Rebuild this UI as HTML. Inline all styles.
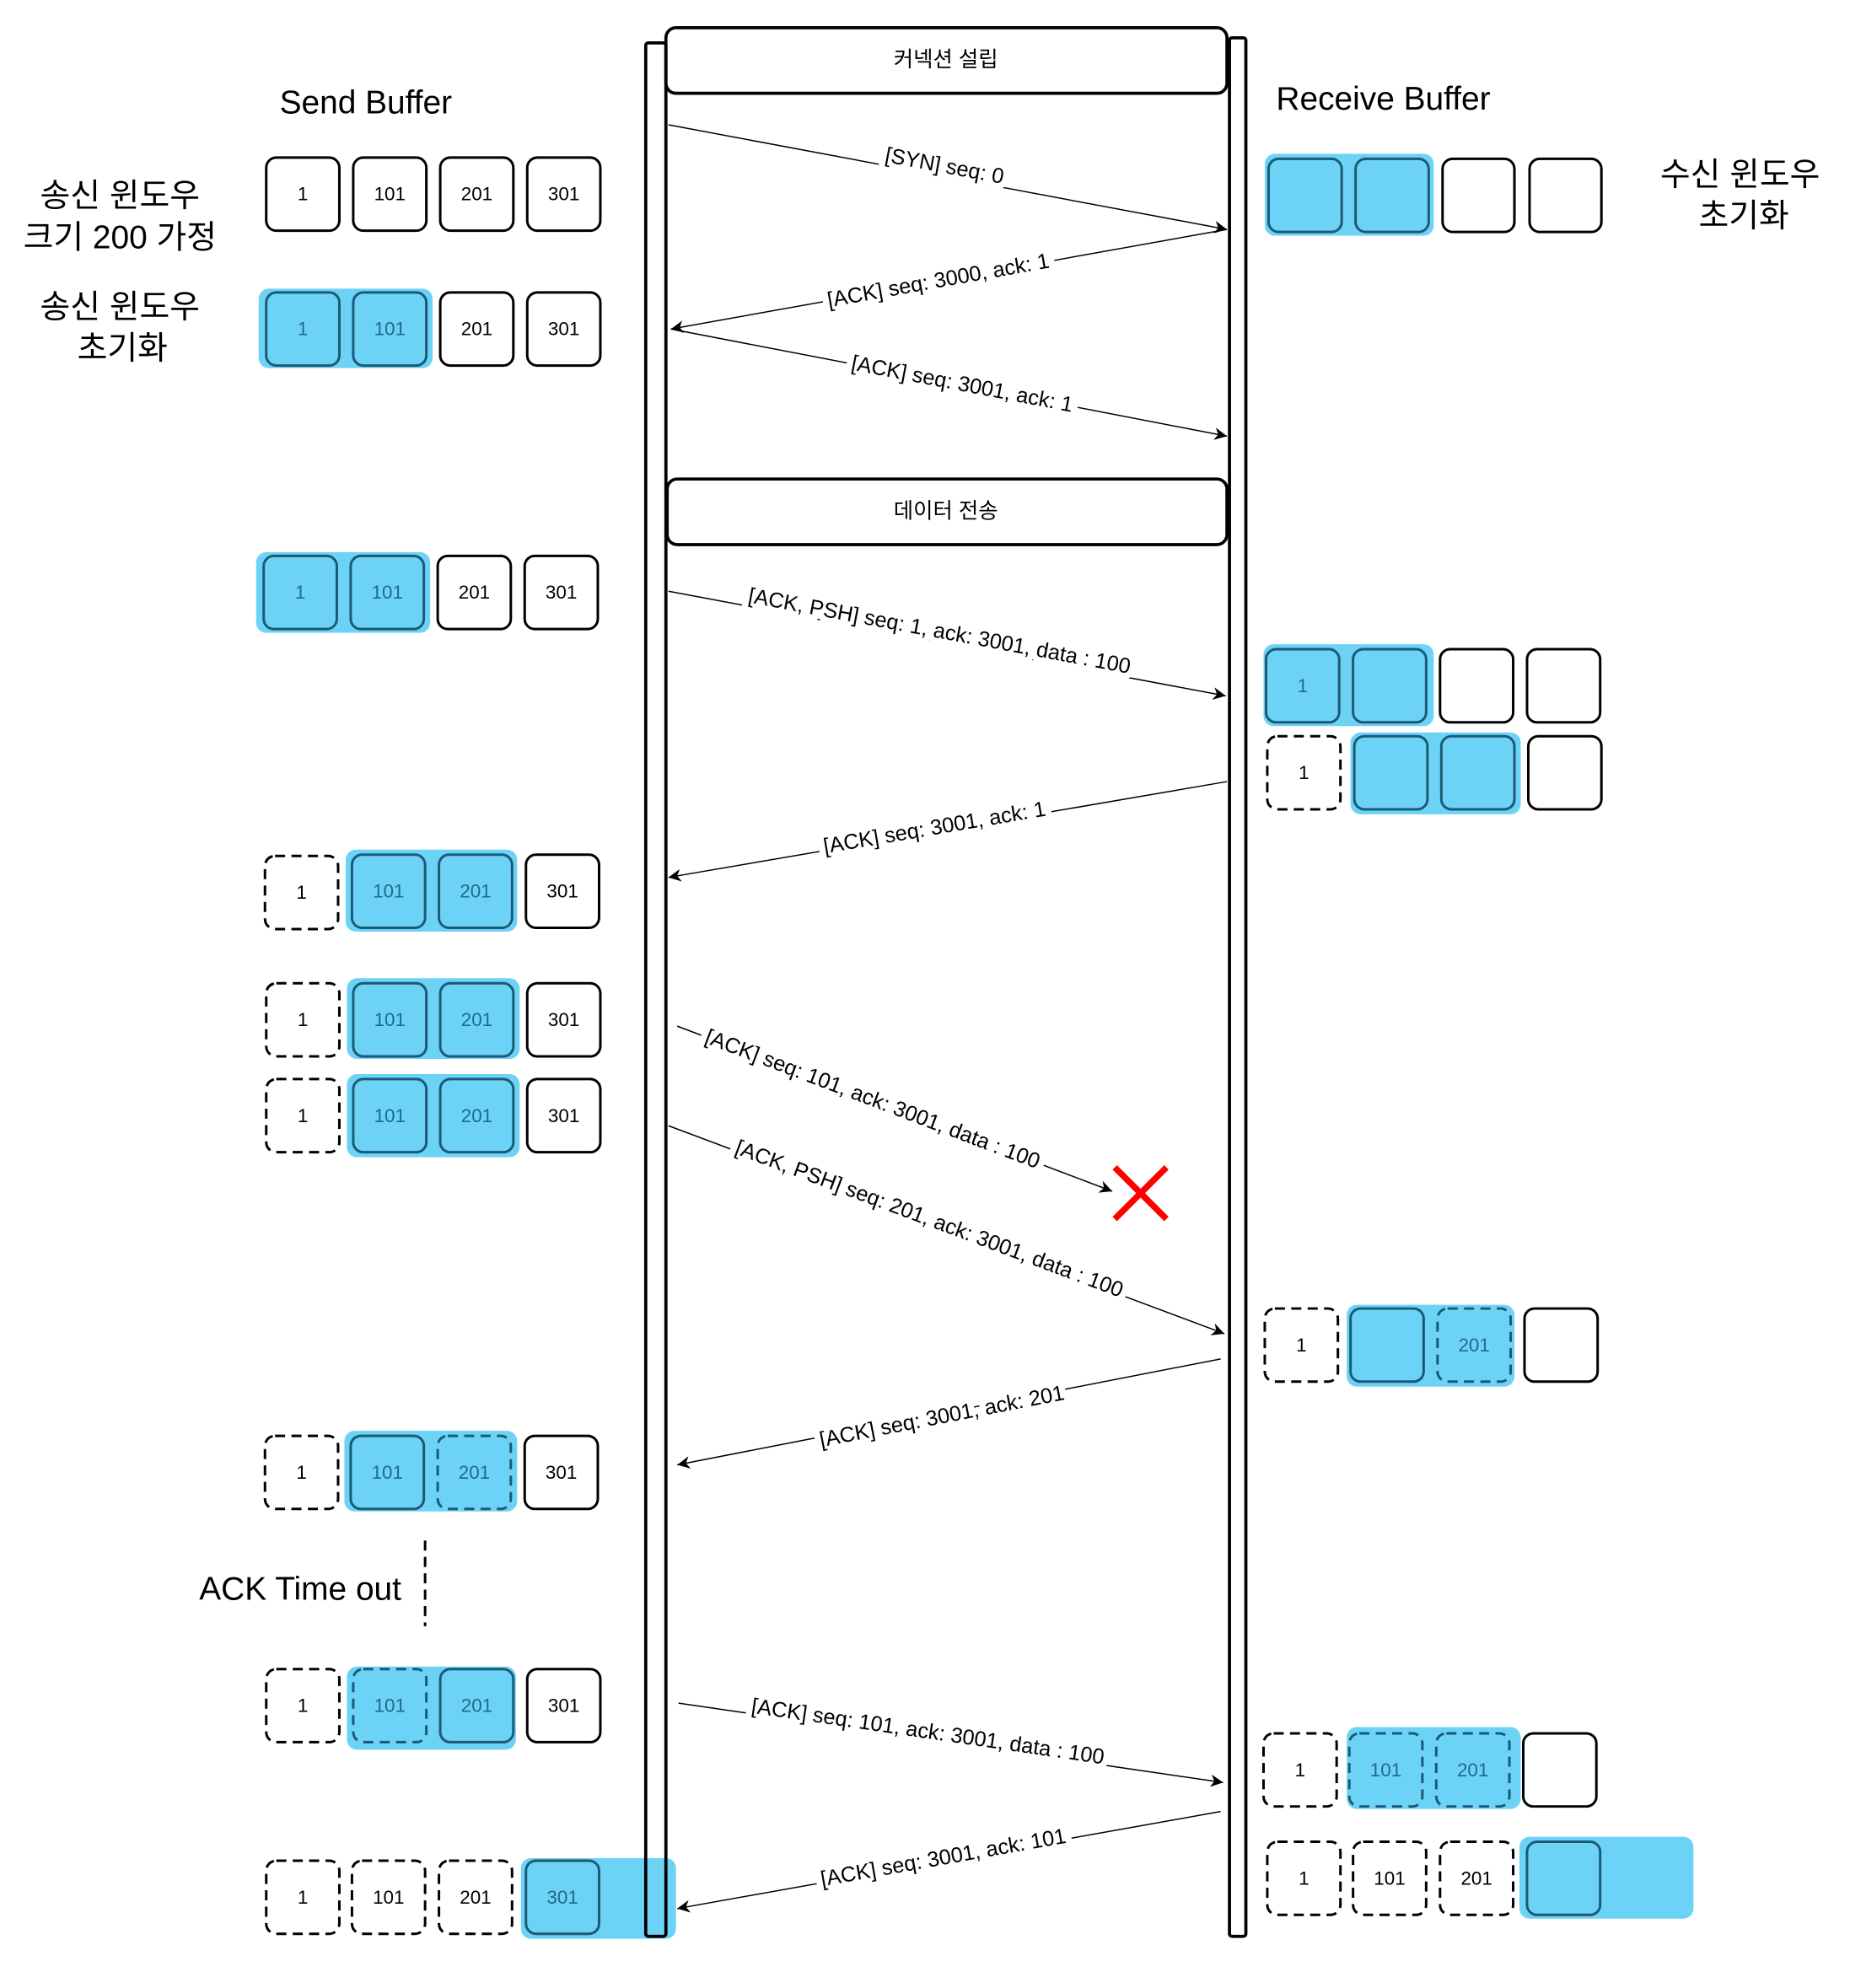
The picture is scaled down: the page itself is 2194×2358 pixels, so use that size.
<!DOCTYPE html>
<html><head><meta charset="utf-8"><style>
html,body{margin:0;padding:0;background:#fff}
svg{display:block}
text{font-family:"Liberation Sans","Noto Sans CJK KR",sans-serif}
.w{fill:#fff;stroke:#000;stroke-width:2}
.d{fill:#fff;stroke:#000;stroke-width:2;stroke-dasharray:8 5}
.b{fill:#6dd3f6;stroke:#1b5a75;stroke-width:2}
.bd{fill:#6dd3f6;stroke:#1b5a75;stroke-width:2;stroke-dasharray:8 5}
.hl{fill:#6dd3f6}
.n{font-size:15px;text-anchor:middle;fill:#000}
.nb{font-size:15px;text-anchor:middle;fill:#1e6b8c}
.lab{font-size:17px;text-anchor:middle;fill:#000;paint-order:stroke;stroke:#fff;stroke-width:10px}
.big{font-size:26px;text-anchor:middle;fill:#000}
.ln{stroke:#000;stroke-width:1;fill:none}
</style></head><body>
<svg width="2194" height="2358" viewBox="0 0 1467 1577" xmlns="http://www.w3.org/2000/svg">
<defs><marker id="a" viewBox="0 0 10 10" refX="10" refY="5" markerWidth="10" markerHeight="10" orient="auto" markerUnits="userSpaceOnUse"><path d="M0,0 L10,5 L0,10 L3,5 z" fill="#000"/></marker></defs>

<rect x="528" y="22" width="445" height="52" rx="8" fill="#fff" stroke="#000" stroke-width="2.5"/>
<text x="750" y="53" class="n" style="font-size:17px">커넥션 설립</text>
<rect x="529" y="380" width="444" height="52" rx="8" fill="#fff" stroke="#000" stroke-width="2.5"/>
<text x="750" y="411" class="n" style="font-size:17px">데이터 전송</text>

<text x="290" y="90" class="big">Send Buffer</text>
<text x="1097" y="87" class="big">Receive Buffer</text>
<text x="95" y="164" class="big">송신 윈도우</text>
<text x="95" y="197" class="big">크기 200 가정</text>
<text x="95" y="252" class="big">송신 윈도우</text>
<text x="97" y="285" class="big">초기화</text>
<text x="1380" y="147" class="big">수신 윈도우</text>
<text x="1383" y="180" class="big">초기화</text>
<text x="238" y="1269" class="big">ACK Time out</text>
<line x1="337" y1="1222" x2="337" y2="1290" stroke="#000" stroke-width="2" stroke-dasharray="8 5"/>

<rect x="211" y="125" width="58" height="58" rx="8" class="w"/><text x="240" y="159" class="n">1</text>
<rect x="280" y="125" width="58" height="58" rx="8" class="w"/><text x="309" y="159" class="n">101</text>
<rect x="349" y="125" width="58" height="58" rx="8" class="w"/><text x="378" y="159" class="n">201</text>
<rect x="418" y="125" width="58" height="58" rx="8" class="w"/><text x="447" y="159" class="n">301</text>

<rect x="205" y="229" width="138" height="63" rx="8" class="hl"/>
<rect x="211" y="232" width="58" height="58" rx="8" class="b"/><text x="240" y="266" class="nb">1</text>
<rect x="280" y="232" width="58" height="58" rx="8" class="b"/><text x="309" y="266" class="nb">101</text>
<rect x="349" y="232" width="58" height="58" rx="8" class="w"/><text x="378" y="266" class="n">201</text>
<rect x="418" y="232" width="58" height="58" rx="8" class="w"/><text x="447" y="266" class="n">301</text>

<rect x="203" y="438" width="138" height="64" rx="8" class="hl"/>
<rect x="209" y="441" width="58" height="58" rx="8" class="b"/><text x="238" y="475" class="nb">1</text>
<rect x="278" y="441" width="58" height="58" rx="8" class="b"/><text x="307" y="475" class="nb">101</text>
<rect x="347" y="441" width="58" height="58" rx="8" class="w"/><text x="376" y="475" class="n">201</text>
<rect x="416" y="441" width="58" height="58" rx="8" class="w"/><text x="445" y="475" class="n">301</text>

<rect x="274" y="674" width="136" height="65" rx="8" class="hl"/>
<rect x="210" y="679" width="58" height="58" rx="8" class="d"/><text x="239" y="713" class="n">1</text>
<rect x="279" y="678" width="58" height="58" rx="8" class="b"/><text x="308" y="712" class="nb">101</text>
<rect x="348" y="678" width="58" height="58" rx="8" class="b"/><text x="377" y="712" class="nb">201</text>
<rect x="417" y="678" width="58" height="58" rx="8" class="w"/><text x="446" y="712" class="n">301</text>

<rect x="275" y="776" width="137" height="64" rx="8" class="hl"/>
<rect x="211" y="780" width="58" height="58" rx="8" class="d"/><text x="240" y="814" class="n">1</text>
<rect x="280" y="780" width="58" height="58" rx="8" class="b"/><text x="309" y="814" class="nb">101</text>
<rect x="349" y="780" width="58" height="58" rx="8" class="b"/><text x="378" y="814" class="nb">201</text>
<rect x="418" y="780" width="58" height="58" rx="8" class="w"/><text x="447" y="814" class="n">301</text>

<rect x="275" y="852" width="137" height="66" rx="8" class="hl"/>
<rect x="211" y="856" width="58" height="58" rx="8" class="d"/><text x="240" y="890" class="n">1</text>
<rect x="280" y="856" width="58" height="58" rx="8" class="b"/><text x="309" y="890" class="nb">101</text>
<rect x="349" y="856" width="58" height="58" rx="8" class="b"/><text x="378" y="890" class="nb">201</text>
<rect x="418" y="856" width="58" height="58" rx="8" class="w"/><text x="447" y="890" class="n">301</text>

<rect x="273" y="1135" width="137" height="64" rx="8" class="hl"/>
<rect x="210" y="1139" width="58" height="58" rx="8" class="d"/><text x="239" y="1173" class="n">1</text>
<rect x="278" y="1139" width="58" height="58" rx="8" class="b"/><text x="307" y="1173" class="nb">101</text>
<rect x="347" y="1139" width="58" height="58" rx="8" class="bd"/><text x="376" y="1173" class="nb">201</text>
<rect x="416" y="1139" width="58" height="58" rx="8" class="w"/><text x="445" y="1173" class="n">301</text>

<rect x="275" y="1322" width="134" height="66" rx="8" class="hl"/>
<rect x="211" y="1324" width="58" height="58" rx="8" class="d"/><text x="240" y="1358" class="n">1</text>
<rect x="280" y="1324" width="58" height="58" rx="8" class="bd"/><text x="309" y="1358" class="nb">101</text>
<rect x="349" y="1324" width="58" height="58" rx="8" class="b"/><text x="378" y="1358" class="nb">201</text>
<rect x="418" y="1324" width="58" height="58" rx="8" class="w"/><text x="447" y="1358" class="n">301</text>

<rect x="413" y="1474" width="123" height="64" rx="8" class="hl"/>
<rect x="211" y="1476" width="58" height="58" rx="8" class="d"/><text x="240" y="1510" class="n">1</text>
<rect x="279" y="1476" width="58" height="58" rx="8" class="d"/><text x="308" y="1510" class="n">101</text>
<rect x="348" y="1476" width="58" height="58" rx="8" class="d"/><text x="377" y="1510" class="n">201</text>
<rect x="417" y="1476" width="58" height="58" rx="8" class="b"/><text x="446" y="1510" class="nb">301</text>

<rect x="1003" y="122" width="134" height="65" rx="8" class="hl"/>
<rect x="1006" y="126" width="58" height="58" rx="8" class="b"/>
<rect x="1075" y="126" width="58" height="58" rx="8" class="b"/>
<rect x="1144" y="126" width="57" height="58" rx="8" class="w"/>
<rect x="1213" y="126" width="57" height="58" rx="8" class="w"/>

<rect x="1002" y="511" width="135" height="65" rx="8" class="hl"/>
<rect x="1004" y="515" width="58" height="58" rx="8" class="b"/><text x="1033" y="549" class="nb">1</text>
<rect x="1073" y="515" width="58" height="58" rx="8" class="b"/>
<rect x="1142" y="515" width="58" height="58" rx="8" class="w"/>
<rect x="1211" y="515" width="58" height="58" rx="8" class="w"/>

<rect x="1071" y="581" width="135" height="65" rx="8" class="hl"/>
<rect x="1005" y="584" width="58" height="58" rx="8" class="d"/><text x="1034" y="618" class="n">1</text>
<rect x="1074" y="584" width="58" height="58" rx="8" class="b"/>
<rect x="1143" y="584" width="58" height="58" rx="8" class="b"/>
<rect x="1212" y="584" width="58" height="58" rx="8" class="w"/>

<rect x="1068" y="1035" width="133" height="65" rx="8" class="hl"/>
<rect x="1003" y="1038" width="58" height="58" rx="8" class="d"/><text x="1032" y="1072" class="n">1</text>
<rect x="1071" y="1038" width="58" height="58" rx="8" class="b"/>
<rect x="1140" y="1038" width="58" height="58" rx="8" class="bd"/><text x="1169" y="1072" class="nb">201</text>
<rect x="1209" y="1038" width="58" height="58" rx="8" class="w"/>

<rect x="1068" y="1370" width="138" height="65" rx="8" class="hl"/>
<rect x="1002" y="1375" width="58" height="58" rx="8" class="d"/><text x="1031" y="1409" class="n">1</text>
<rect x="1070" y="1375" width="58" height="58" rx="8" class="bd"/><text x="1099" y="1409" class="nb">101</text>
<rect x="1139" y="1375" width="58" height="58" rx="8" class="bd"/><text x="1168" y="1409" class="nb">201</text>
<rect x="1208" y="1375" width="58" height="58" rx="8" class="w"/>

<rect x="1205" y="1457" width="138" height="65" rx="8" class="hl"/>
<rect x="1005" y="1461" width="58" height="58" rx="8" class="d"/><text x="1034" y="1495" class="n">1</text>
<rect x="1073" y="1461" width="58" height="58" rx="8" class="d"/><text x="1102" y="1495" class="n">101</text>
<rect x="1142" y="1461" width="58" height="58" rx="8" class="d"/><text x="1171" y="1495" class="n">201</text>
<rect x="1211" y="1461" width="58" height="58" rx="8" class="b"/>

<line x1="530" y1="99" x2="973" y2="182" class="ln" marker-end="url(#a)"/>
<text class="lab" transform="translate(748,137) rotate(10.6)">[SYN] seq: 0</text>
<line x1="973" y1="182" x2="532" y2="261" class="ln" marker-end="url(#a)"/>
<text class="lab" transform="translate(745,228) rotate(-10.2)">[ACK] seq: 3000, ack: 1</text>
<line x1="532" y1="261" x2="973" y2="346" class="ln" marker-end="url(#a)"/>
<text class="lab" transform="translate(762,310) rotate(10.9)">[ACK] seq: 3001, ack: 1</text>
<line x1="530" y1="469" x2="972" y2="552" class="ln" marker-end="url(#a)"/>
<text class="lab" transform="translate(744,506) rotate(10.6)">[ACK, PSH] seq: 1, ack: 3001, data : 100</text>
<line x1="973" y1="620" x2="530" y2="696" class="ln" marker-end="url(#a)"/>
<text class="lab" transform="translate(742,662) rotate(-9.7)">[ACK] seq: 3001, ack: 1</text>
<line x1="537" y1="814" x2="882" y2="945" class="ln" marker-end="url(#a)"/>
<text class="lab" transform="translate(690,877) rotate(20.8)">[ACK] seq: 101, ack: 3001, data : 100</text>
<line x1="530" y1="893" x2="971" y2="1058" class="ln" marker-end="url(#a)"/>
<text class="lab" transform="translate(735,972) rotate(20.5)">[ACK, PSH] seq: 201, ack: 3001, data : 100</text>
<line x1="968" y1="1078" x2="537" y2="1162" class="ln" marker-end="url(#a)"/>
<text class="lab" transform="translate(748,1129) rotate(-11)">[ACK]  seq: 3001, ack: 201</text>
<line x1="538" y1="1351" x2="970" y2="1414" class="ln" marker-end="url(#a)"/>
<text class="lab" transform="translate(735,1379) rotate(8.3)">[ACK] seq: 101, ack: 3001, data : 100</text>
<line x1="968" y1="1437" x2="537" y2="1514" class="ln" marker-end="url(#a)"/>
<text class="lab" transform="translate(749,1479) rotate(-10.1)">[ACK]  seq: 3001, ack: 101</text>

<line x1="884" y1="926" x2="925" y2="967" stroke="#f00" stroke-width="5"/>
<line x1="925" y1="926" x2="884" y2="967" stroke="#f00" stroke-width="5"/>

<!-- lifelines on top -->
<rect x="512" y="34" width="16" height="1502" rx="2" fill="none" stroke="#000" stroke-width="2.5"/>
<rect x="975" y="30" width="13" height="1506" rx="2" fill="none" stroke="#000" stroke-width="2.5"/>
</svg>
</body></html>
